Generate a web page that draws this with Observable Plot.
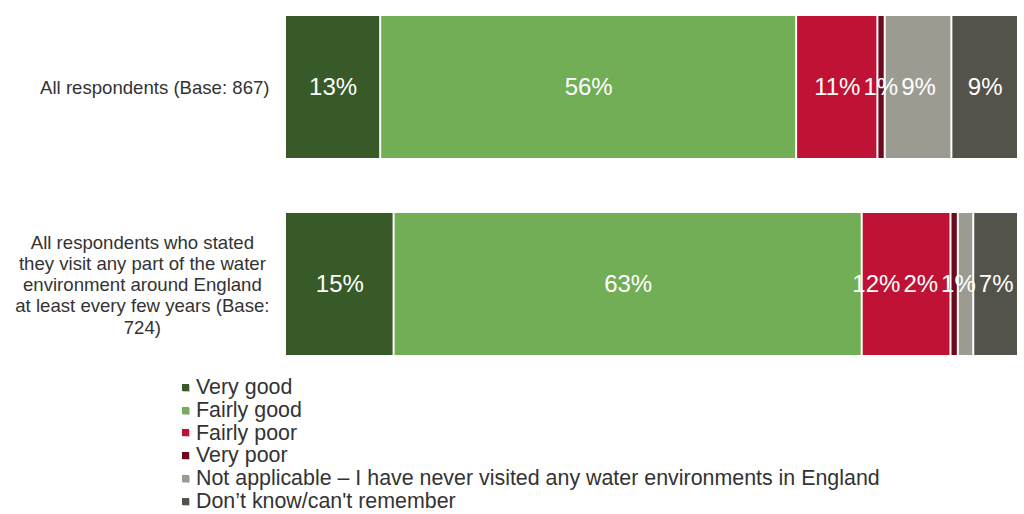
<!DOCTYPE html>
<html>
<head>
<meta charset="utf-8">
<script src="https://cdn.jsdelivr.net/npm/d3@7"></script>
<script src="https://cdn.jsdelivr.net/npm/@observablehq/plot@0.6"></script>
<style>
  html, body { margin: 0; padding: 0; background: #fff; }
  body { width: 1024px; height: 514px; overflow: hidden; font-family: "Liberation Sans", Arial, sans-serif; }
  #legend { padding: 6px 0 0 182px; }
  .li { display: flex; align-items: center; height: 22.8px; font-size: 21.4px; color: #333; line-height: 22.8px; white-space: nowrap; }
  .sw { width: 7px; height: 7px; margin-right: 7px; box-shadow: 1px 1px 0 #c8c8c8; flex: none; }
</style>
</head>
<body>
<div id="chart"></div>
<div id="legend"></div>
<script>
const categories = [
  "All respondents (Base: 867)",
  "All respondents who stated they visit any part of the water environment around England at least every few years (Base: 724)"
];
const categoryLines = [
  ["All respondents (Base: 867)"],
  ["All respondents who stated", "they visit any part of the water", "environment around England", "at least every few years (Base:", "724)"]
];
const responses = [
  "Very good",
  "Fairly good",
  "Fairly poor",
  "Very poor",
  "Not applicable \u2013 I have never visited any water environments in England",
  "Don\u2019t know/can't remember"
];
const colors = ["#375a28", "#72ae55", "#c01234", "#6a0a1c", "#9b9b92", "#53534b"];
const valuesAll = [13.0, 56.8, 11.1, 1.0, 9.1, 9.1];
const valuesVisitors = [14.8, 63.8, 12.1, 1.0, 2.1, 6.1];
const labelsAll = ["13%", "56%", "11%", "1%", "9%", "9%"];
const labelsVisitors = ["15%", "63%", "12%", "2%", "1%", "7%"];

const seriesValues = [valuesAll, valuesVisitors];
const seriesLabels = [labelsAll, labelsVisitors];

const W = 1024, H = 370, mL = 285, mR = 6, mT = 16, mB = 15;
const fontSize = 24;
const catFont = 18.6;
const FONT = "'Liberation Sans', Arial, sans-serif";

const rows = [];
categories.forEach((c, i) => {
  const vals = seriesValues[i];
  const total = d3.sum(vals);
  let acc = 0;
  vals.forEach((v, j) => {
    rows.push({cat: c, resp: responses[j], x1: acc / total, x2: (acc + v) / total, label: seriesLabels[i][j]});
    acc += v;
  });
});

// text measuring
const ctx = document.createElement("canvas").getContext("2d");
function measure(s, size) { ctx.font = `${size}px ${FONT}`; return ctx.measureText(s).width; }

// label layout: from right to left, push a label leftwards if it would overlap its right neighbour
const plotW = W - mL - mR;
const px = f => mL + f * plotW;
const gap = 3;
categories.forEach(c => {
  const ls = rows.filter(r => r.cat === c).map(r => ({r, w: measure(r.label, fontSize), cx: (px(r.x1) + px(r.x2)) / 2}));
  const n = ls.length;
  if (ls[n - 1].cx + ls[n - 1].w / 2 > px(1)) ls[n - 1].cx = px(1) - ls[n - 1].w / 2;
  for (let k = n - 2; k >= 0; k--) {
    const a = ls[k], b = ls[k + 1];
    const maxC = b.cx - b.w / 2 - gap - a.w / 2;
    if (a.cx > maxC) a.cx = maxC;
  }
  ls.forEach(l => { l.r.lx = (l.cx - mL) / plotW; });
});

// category labels: lines centred within a block whose right edge sits left of the bars
const catRows = [];
categories.forEach((c, i) => {
  const lines = categoryLines[i];
  const bw = d3.max(lines, s => measure(s, catFont));
  catRows.push({cat: c, text: lines.join("\n"), dx: -16 - bw / 2});
});

const chart = Plot.plot({
  width: W,
  height: H,
  marginLeft: mL,
  marginRight: mR,
  marginTop: mT,
  marginBottom: mB,
  style: {fontFamily: FONT, background: "#fff"},
  x: {domain: [0, 1], axis: null},
  y: {domain: categories, padding: 0.28, paddingOuter: 0, axis: null},
  color: {domain: responses, range: colors},
  marks: [
    Plot.rectX(rows, {x1: "x1", x2: "x2", y: "cat", fill: "resp", insetLeft: 1, insetRight: 1}),
    Plot.text(rows, {x: "lx", y: "cat", text: "label", fill: "white", fontSize: fontSize}),
    ...catRows.map(cr => Plot.text([cr], {y: "cat", text: "text", frameAnchor: "left", dx: cr.dx, textAnchor: "middle", fontSize: catFont, lineHeight: 1.14, fill: "#333"}))
  ]
});
document.getElementById("chart").appendChild(chart);

const leg = document.getElementById("legend");
responses.forEach((r, i) => {
  const d = document.createElement("div");
  d.className = "li";
  const s = document.createElement("span");
  s.className = "sw";
  s.style.background = colors[i];
  const t = document.createElement("span");
  t.textContent = r;
  d.appendChild(s); d.appendChild(t);
  leg.appendChild(d);
});
</script>
</body>
</html>
